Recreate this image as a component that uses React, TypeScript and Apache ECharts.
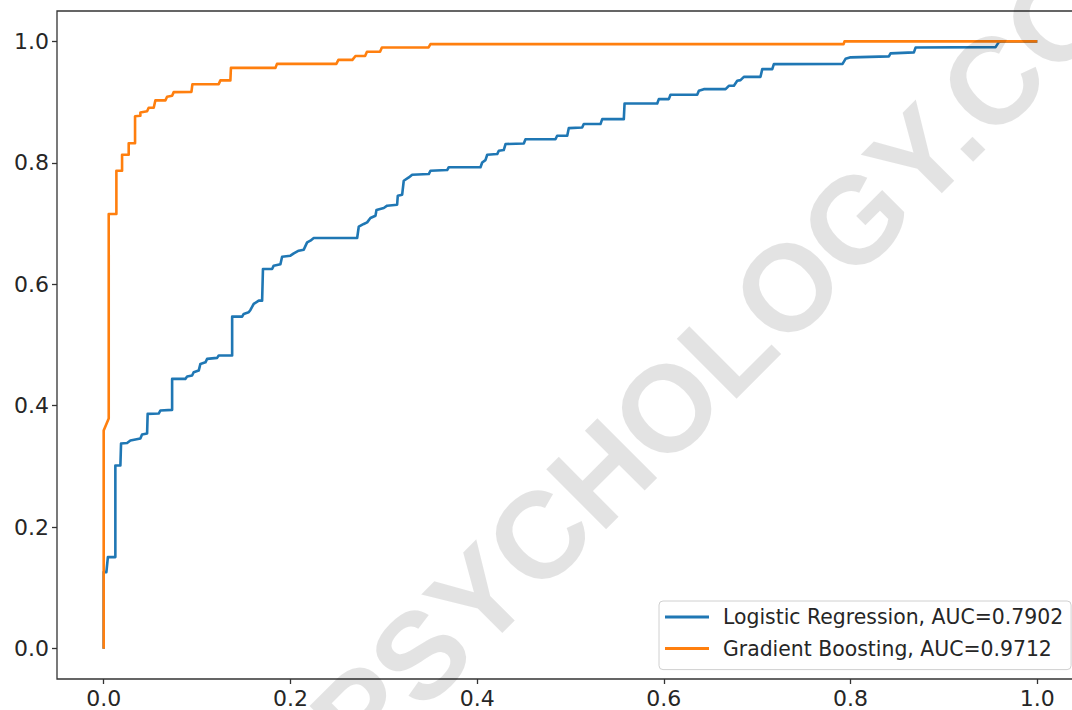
import React, { useEffect, useRef } from "react";
import * as echarts from "echarts";

// Logistic Regression ROC (false positive rate / true positive rate)
const lrFpr = [
  0, 0, 0.0029, 0.0045, 0.0125, 0.0125, 0.0179, 0.0186, 0.0251, 0.0286,
  0.0393, 0.0411, 0.0465, 0.0471, 0.0589, 0.0607, 0.0733, 0.0733, 0.0875, 0.0894,
  0.0947, 0.0964, 0.1018, 0.1036, 0.109, 0.1108, 0.1215, 0.1232, 0.1376, 0.1376,
  0.1483, 0.15, 0.1553, 0.1572, 0.1607, 0.1661, 0.1697, 0.1706, 0.1804, 0.1821,
  0.1893, 0.1911, 0.2, 0.2036, 0.2089, 0.2143, 0.2179, 0.2214, 0.225, 0.2715,
  0.2732, 0.2786, 0.2822, 0.2857, 0.2911, 0.2922, 0.3, 0.3036, 0.3143, 0.315,
  0.3197, 0.3214, 0.3268, 0.3304, 0.3482, 0.35, 0.3679, 0.3696, 0.4036, 0.4054,
  0.4089, 0.4108, 0.4215, 0.4232, 0.4285, 0.4304, 0.45, 0.4518, 0.4839, 0.4857,
  0.4965, 0.4982, 0.5125, 0.5142, 0.5321, 0.534, 0.5571, 0.5579, 0.5929, 0.5946,
  0.6053, 0.6071, 0.6357, 0.6375, 0.6428, 0.6661, 0.6696, 0.675, 0.6786, 0.6821,
  0.6857, 0.7035, 0.7054, 0.7161, 0.7178, 0.7914, 0.7946, 0.8, 0.841, 0.8428,
  0.8678, 0.8696, 0.9553, 0.9585, 0.9607, 1.0,
];
const lrTpr = [
  0, 0.126, 0.126, 0.1507, 0.1507, 0.3016, 0.3016, 0.3378, 0.3386, 0.3427,
  0.346, 0.3526, 0.3542, 0.3866, 0.3871, 0.3921, 0.3932, 0.4442, 0.4442, 0.448,
  0.4497, 0.4551, 0.4579, 0.4689, 0.4715, 0.4771, 0.4788, 0.4826, 0.4826, 0.5467,
  0.5467, 0.5512, 0.5538, 0.5578, 0.5676, 0.5731, 0.5731, 0.6252, 0.6252, 0.6306,
  0.6331, 0.6454, 0.6471, 0.6509, 0.6553, 0.657, 0.669, 0.6718, 0.6762, 0.6762,
  0.6948, 0.6993, 0.7019, 0.7091, 0.7129, 0.7223, 0.7256, 0.7294, 0.731, 0.7458,
  0.7475, 0.7705, 0.7759, 0.7804, 0.7815, 0.787, 0.7881, 0.7927, 0.7927, 0.8006,
  0.8045, 0.8133, 0.8144, 0.8198, 0.821, 0.8309, 0.8319, 0.8388, 0.8388, 0.8446,
  0.8446, 0.8572, 0.8582, 0.8638, 0.8638, 0.872, 0.872, 0.8977, 0.8977, 0.9049,
  0.9049, 0.912, 0.912, 0.9186, 0.9213, 0.9213, 0.9268, 0.9268, 0.935, 0.9362,
  0.9416, 0.9416, 0.9543, 0.9543, 0.9625, 0.963, 0.9712, 0.9737, 0.9753, 0.9803,
  0.9819, 0.9898, 0.9905, 0.9984, 0.9997, 1.0,
];

// Gradient Boosting ROC
const gbFpr = [
  0, 0, 0.0054, 0.0054, 0.0136, 0.0136, 0.0197, 0.0197, 0.0268, 0.0268,
  0.0336, 0.0336, 0.0393, 0.0393, 0.0465, 0.0482, 0.0536, 0.0554, 0.0661, 0.0679,
  0.0733, 0.075, 0.094, 0.095, 0.1232, 0.125, 0.1357, 0.1363, 0.184, 0.1856,
  0.2492, 0.2514, 0.2664, 0.2697, 0.28, 0.282, 0.296, 0.298, 0.348, 0.35,
  0.7925, 0.7935, 1.0,
];
const gbTpr = [
  0, 0.3592, 0.379, 0.7157, 0.7157, 0.787, 0.787, 0.8133, 0.8133, 0.8322,
  0.8322, 0.8766, 0.8774, 0.8828, 0.8848, 0.8906, 0.8906, 0.9029, 0.9029, 0.9087,
  0.9103, 0.9164, 0.9169, 0.9293, 0.9296, 0.9358, 0.9358, 0.9564, 0.9564, 0.963,
  0.963, 0.9695, 0.9695, 0.976, 0.976, 0.983, 0.983, 0.99, 0.99, 0.9954,
  0.9954, 1.0, 1.0,
];

const seriesNames = [
  "Logistic Regression, AUC=0.7902",
  "Gradient Boosting, AUC=0.9712",
];
const tickValues = [0, 0.2, 0.4, 0.6, 0.8, 1.0];
const watermarkText = "SIMPLYPSYCHOLOGY.COM";

const FONT = "DejaVu Sans";

export default function App() {
  const ref = useRef<HTMLDivElement>(null);

  useEffect(() => {
    if (!ref.current) return;
    const chart = echarts.init(ref.current, undefined, { renderer: "svg" });

    const lrData = lrFpr.map((x, i) => [x, lrTpr[i]]);
    const gbData = gbFpr.map((x, i) => [x, gbTpr[i]]);

    const axisCommon = {
      type: "value" as const,
      min: -0.05,
      max: 1.05,
      splitLine: { show: false },
      axisLine: { show: false, onZero: false },
      axisTick: {
        show: true,
        customValues: tickValues,
        length: 5,
        lineStyle: { color: "#333", width: 1.3 },
      },
    };

    const labelCommon = {
      customValues: tickValues,
      formatter: (v: number) => v.toFixed(1),
      color: "#262626",
      fontFamily: FONT,
      fontSize: 22,
      margin: 8,
    };

    chart.setOption({
      animation: false,
      backgroundColor: "#ffffff",
      grid: {
        left: 57,
        top: 11,
        width: 1027,
        height: 668,
        outerBoundsMode: "none",
        containLabel: false,
        show: true,
        borderColor: "#333",
        borderWidth: 1.3,
        backgroundColor: "transparent",
      },
      xAxis: { ...axisCommon, axisLabel: labelCommon },
      yAxis: { ...axisCommon, axisLabel: labelCommon },
      legend: {
        left: 659,
        top: 601,
        orient: "vertical",
        icon: "rect",
        itemWidth: 44,
        itemHeight: 3,
        itemGap: 7.6,
        padding: [4, 8, 9, 6],
        backgroundColor: "rgba(255,255,255,0.8)",
        borderColor: "#d0d0d0",
        borderWidth: 1,
        borderRadius: 4,
        data: seriesNames,
        textStyle: {
          fontFamily: FONT,
          fontSize: 20.4,
          color: "#262626",
          lineHeight: 24,
          padding: [0, 0, 0, 9],
        },
      },
      series: [
        {
          name: seriesNames[0],
          type: "line",
          data: lrData,
          showSymbol: false,
          symbol: "none",
          color: "#1f77b4",
          lineStyle: { color: "#1f77b4", width: 2.6, join: "round" },
          z: 2,
        },
        {
          name: seriesNames[1],
          type: "line",
          data: gbData,
          showSymbol: false,
          symbol: "none",
          color: "#ff7f0e",
          lineStyle: { color: "#ff7f0e", width: 2.6, join: "round" },
          z: 3,
        },
      ],
      graphic: [
        {
          type: "text",
          x: 591,
          y: 484,
          rotation: (45 * Math.PI) / 180,
          z: 100,
          silent: true,
          style: {
            text: watermarkText,
            font: 'bold 123px "Liberation Sans"',
            fill: "rgba(0,0,0,0.11)",
            align: "center",
            verticalAlign: "middle",
          },
        },
      ],
    });

    return () => chart.dispose();
  }, []);

  return (
    <div
      ref={ref}
      style={{ position: "absolute", left: 0, top: 0, width: 1072, height: 710 }}
    />
  );
}
